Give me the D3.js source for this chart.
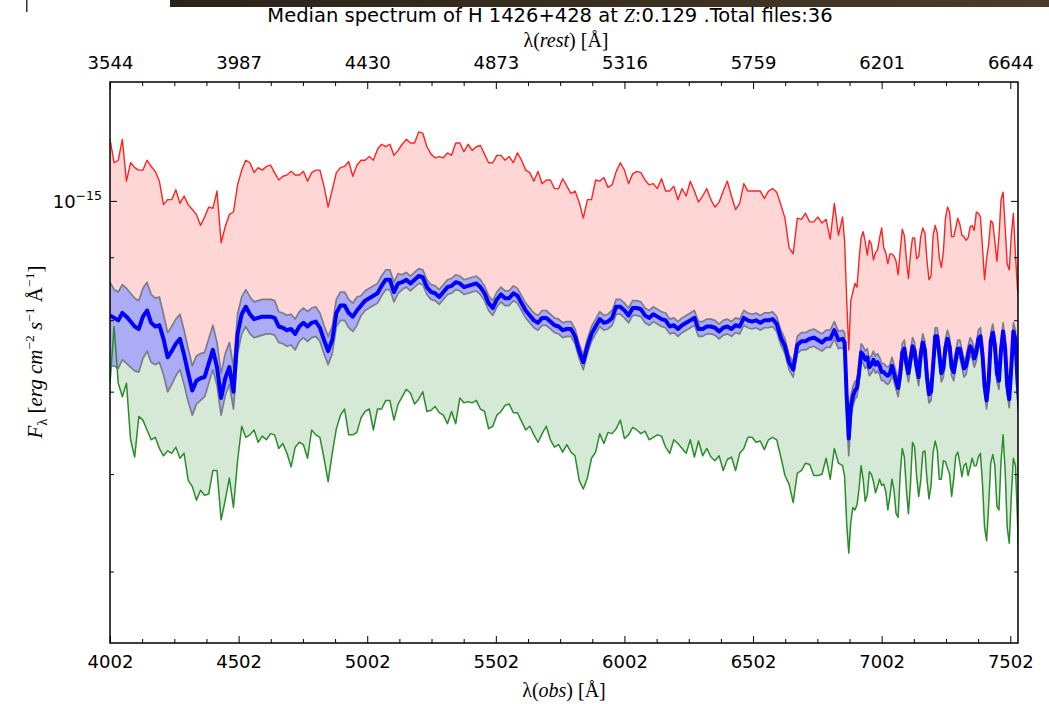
<!DOCTYPE html>
<html><head><meta charset="utf-8">
<script src="https://cdn.jsdelivr.net/npm/d3@7"></script>
<style>body{margin:0;background:#fff}svg{display:block}</style>
</head><body>
<svg id="chart" width="1049" height="704"></svg>
<script>
// ---------------- DATA ----------------
const redshift = 0.129;
const sourceName = "H 1426+428";
const totalFiles = 36;
// observed-frame wavelength grid (Angstrom): 16 A steps up to 6850, 8 A steps beyond
const gridCoarse = {start: 4002, stop: 6850, step: 16};
const gridFine = {start: 6858, stop: 7538, step: 8};
// bottom axis ticks (observed) and top axis labels (rest frame)
const obsTicks = [4002, 4502, 5002, 5502, 6002, 6502, 7002, 7502];
const restTickLabels = ["3544", "3987", "4430", "4873", "5316", "5759", "6201", "6644"];
const fluxMajorTicks = [1e-15];
const fluxMinorTicks = [5e-16, 6e-16, 7e-16, 8e-16, 9e-16];
// all flux series given as log10(F_lambda / 1e-15 erg cm^-2 s^-1 A^-1)
const maxLog = [
 0.050,0.031,0.033,0.050,0.016,0.031,0.027,0.025,0.025,0.033,
 0.028,0.024,0.016,-0.003,0.001,0.001,0.009,-0.002,0.004,-0.003,
 -0.007,-0.011,-0.020,-0.013,-0.005,-0.006,0.008,-0.034,-0.021,-0.011,
 -0.009,0.013,0.025,0.033,0.031,0.023,0.027,0.025,0.028,0.029,
 0.023,0.017,0.020,0.021,0.024,0.021,0.021,0.024,0.016,0.023,
 0.025,0.025,0.012,-0.005,0.009,0.023,0.027,0.028,0.032,0.020,
 0.029,0.033,0.033,0.036,0.033,0.042,0.046,0.044,0.046,0.037,
 0.041,0.046,0.050,0.047,0.047,0.056,0.055,0.044,0.038,0.035,
 0.036,0.035,0.039,0.037,0.047,0.047,0.040,0.046,0.041,0.044,
 0.045,0.038,0.031,0.031,0.037,0.037,0.033,0.036,0.031,0.039,
 0.033,0.025,0.023,0.016,0.024,0.014,0.017,0.017,0.010,0.010,
 0.018,0.012,0.006,0.008,-0.001,-0.014,0.001,0.001,0.017,0.016,
 0.019,0.011,0.013,0.024,0.031,0.025,0.014,0.022,0.024,0.023,
 0.017,0.013,0.014,0.010,0.018,0.008,0.008,0.012,0.001,0.010,
 0.004,0.016,0.008,-0.001,0.004,0.010,0.001,-0.005,-0.001,0.008,
 0.016,0.004,-0.007,-0.002,0.014,0.008,0.008,0.008,0.008,0.002,
 0.008,0.010,0.007,-0.003,-0.014,-0.038,-0.043,-0.014,-0.015,-0.010,
 -0.017,-0.017,-0.013,-0.018,-0.015,-0.031,-0.002,-0.028,-0.013,
 -0.033,-0.080,-0.121,-0.081,-0.074,-0.067,-0.070,-0.048,-0.030,-0.025,
 -0.033,-0.044,-0.032,-0.035,-0.048,-0.042,-0.040,-0.030,-0.022,-0.038,
 -0.042,-0.051,-0.043,-0.043,-0.045,-0.049,-0.060,-0.041,-0.023,-0.028,
 -0.047,-0.063,-0.043,-0.030,-0.030,-0.047,-0.045,-0.029,-0.022,-0.026,
 -0.048,-0.064,-0.061,-0.028,-0.020,-0.026,-0.046,-0.054,-0.041,-0.014,
 -0.005,-0.009,-0.029,-0.029,-0.022,-0.014,-0.019,-0.028,-0.029,-0.032,
 -0.030,-0.021,-0.020,-0.024,-0.009,-0.010,-0.013,-0.038,-0.064,-0.047,
 -0.035,-0.016,-0.018,-0.033,-0.049,-0.029,0.001,0.007,-0.021,-0.051,
 -0.056,-0.028,-0.010,-0.043,-0.072,-0.080
];
const medianLog = [
 -0.093,-0.095,-0.097,-0.091,-0.094,-0.098,-0.102,-0.104,-0.094,-0.089,
 -0.099,-0.102,-0.101,-0.112,-0.127,-0.122,-0.116,-0.112,-0.125,-0.140,
 -0.154,-0.146,-0.144,-0.143,-0.132,-0.121,-0.135,-0.160,-0.144,-0.135,
 -0.155,-0.108,-0.092,-0.086,-0.092,-0.096,-0.095,-0.094,-0.094,-0.094,
 -0.095,-0.102,-0.103,-0.105,-0.104,-0.108,-0.102,-0.099,-0.102,-0.099,
 -0.098,-0.103,-0.113,-0.122,-0.113,-0.091,-0.085,-0.085,-0.091,-0.094,
 -0.089,-0.085,-0.081,-0.079,-0.077,-0.075,-0.069,-0.064,-0.064,-0.074,
 -0.067,-0.066,-0.064,-0.067,-0.064,-0.061,-0.062,-0.070,-0.074,-0.075,
 -0.078,-0.074,-0.070,-0.069,-0.066,-0.067,-0.070,-0.069,-0.068,-0.067,
 -0.070,-0.075,-0.083,-0.087,-0.080,-0.076,-0.079,-0.079,-0.075,-0.077,
 -0.083,-0.089,-0.093,-0.097,-0.099,-0.095,-0.095,-0.098,-0.101,-0.102,
 -0.105,-0.104,-0.104,-0.110,-0.122,-0.131,-0.118,-0.108,-0.102,-0.096,
 -0.099,-0.098,-0.095,-0.086,-0.086,-0.089,-0.093,-0.087,-0.087,-0.088,
 -0.093,-0.095,-0.092,-0.094,-0.096,-0.097,-0.102,-0.101,-0.104,-0.101,
 -0.099,-0.097,-0.095,-0.104,-0.104,-0.102,-0.102,-0.103,-0.106,-0.103,
 -0.102,-0.104,-0.101,-0.102,-0.095,-0.097,-0.098,-0.097,-0.099,-0.097,
 -0.097,-0.096,-0.100,-0.111,-0.118,-0.131,-0.137,-0.117,-0.114,-0.114,
 -0.112,-0.111,-0.113,-0.115,-0.112,-0.112,-0.105,-0.113,-0.112,
 -0.115,-0.159,-0.193,-0.167,-0.159,-0.154,-0.152,-0.140,-0.123,-0.125,
 -0.129,-0.127,-0.135,-0.133,-0.129,-0.133,-0.131,-0.134,-0.139,-0.139,
 -0.141,-0.142,-0.140,-0.134,-0.140,-0.146,-0.152,-0.141,-0.123,-0.120,
 -0.132,-0.140,-0.129,-0.118,-0.122,-0.135,-0.143,-0.124,-0.115,-0.121,
 -0.143,-0.157,-0.155,-0.134,-0.110,-0.110,-0.124,-0.140,-0.136,-0.119,
 -0.112,-0.118,-0.135,-0.139,-0.129,-0.120,-0.120,-0.128,-0.136,-0.134,
 -0.125,-0.118,-0.121,-0.128,-0.123,-0.112,-0.110,-0.125,-0.150,-0.162,
 -0.146,-0.114,-0.107,-0.117,-0.140,-0.146,-0.121,-0.106,-0.120,-0.150,
 -0.161,-0.135,-0.106,-0.112,-0.146,-0.170
];
const minLog = [
 -0.148,-0.102,-0.148,-0.159,-0.148,-0.194,-0.208,-0.175,-0.178,-0.186,
 -0.194,-0.192,-0.201,-0.207,-0.203,-0.205,-0.200,-0.209,-0.205,-0.227,
 -0.232,-0.243,-0.235,-0.239,-0.238,-0.219,-0.219,-0.259,-0.243,-0.225,
 -0.249,-0.211,-0.183,-0.192,-0.190,-0.186,-0.196,-0.191,-0.194,-0.189,
 -0.190,-0.201,-0.197,-0.205,-0.216,-0.200,-0.196,-0.198,-0.209,-0.186,
 -0.190,-0.192,-0.209,-0.228,-0.205,-0.185,-0.174,-0.169,-0.190,-0.190,
 -0.188,-0.176,-0.171,-0.169,-0.186,-0.169,-0.169,-0.162,-0.162,-0.178,
 -0.165,-0.159,-0.153,-0.156,-0.165,-0.161,-0.155,-0.171,-0.170,-0.167,
 -0.172,-0.174,-0.181,-0.171,-0.181,-0.160,-0.164,-0.163,-0.164,-0.162,
 -0.169,-0.171,-0.185,-0.183,-0.174,-0.171,-0.166,-0.165,-0.172,-0.172,
 -0.179,-0.186,-0.183,-0.190,-0.196,-0.189,-0.183,-0.194,-0.200,-0.198,
 -0.204,-0.198,-0.204,-0.207,-0.227,-0.234,-0.225,-0.209,-0.204,-0.189,
 -0.197,-0.188,-0.189,-0.185,-0.178,-0.193,-0.190,-0.184,-0.186,-0.189,
 -0.187,-0.194,-0.192,-0.190,-0.191,-0.200,-0.205,-0.194,-0.197,-0.201,
 -0.205,-0.194,-0.208,-0.195,-0.207,-0.201,-0.208,-0.211,-0.207,-0.219,
 -0.210,-0.208,-0.219,-0.205,-0.201,-0.192,-0.192,-0.196,-0.195,-0.202,
 -0.194,-0.192,-0.194,-0.208,-0.223,-0.230,-0.245,-0.221,-0.219,-0.213,
 -0.214,-0.223,-0.223,-0.222,-0.209,-0.226,-0.201,-0.213,-0.215,
 -0.224,-0.262,-0.286,-0.261,-0.249,-0.251,-0.247,-0.234,-0.215,-0.226,
 -0.244,-0.239,-0.220,-0.222,-0.228,-0.237,-0.232,-0.226,-0.231,-0.230,
 -0.236,-0.251,-0.240,-0.226,-0.235,-0.254,-0.257,-0.222,-0.201,-0.208,
 -0.234,-0.254,-0.230,-0.196,-0.200,-0.224,-0.240,-0.227,-0.204,-0.203,
 -0.226,-0.242,-0.231,-0.204,-0.195,-0.202,-0.226,-0.226,-0.211,-0.212,
 -0.217,-0.222,-0.240,-0.226,-0.207,-0.204,-0.213,-0.224,-0.215,-0.213,
 -0.223,-0.216,-0.209,-0.215,-0.215,-0.208,-0.205,-0.230,-0.265,-0.276,
 -0.247,-0.213,-0.206,-0.215,-0.248,-0.251,-0.212,-0.190,-0.219,-0.265,
 -0.278,-0.240,-0.209,-0.215,-0.259,-0.322
];
// scatter of the files about the median (dex above / below)
const scatterHi = [
 0.027,0.023,0.023,0.023,0.023,0.023,0.023,0.023,0.023,0.023,
 0.023,0.023,0.023,0.020,0.020,0.020,0.020,0.020,0.020,0.020,
 0.020,0.020,0.020,0.020,0.020,0.020,0.020,0.020,0.020,0.020,
 0.020,0.016,0.014,0.014,0.014,0.014,0.014,0.014,0.014,0.014,
 0.014,0.012,0.012,0.012,0.012,0.012,0.012,0.012,0.012,0.012,
 0.012,0.012,0.012,0.012,0.011,0.011,0.011,0.011,0.011,0.011,
 0.011,0.008,0.008,0.008,0.008,0.008,0.008,0.008,0.008,0.008,
 0.008,0.006,0.006,0.006,0.006,0.006,0.006,0.006,0.006,0.006,
 0.006,0.006,0.006,0.006,0.006,0.006,0.006,0.006,0.006,0.006,
 0.006,0.006,0.006,0.006,0.006,0.006,0.006,0.006,0.006,0.006,
 0.006,0.006,0.006,0.006,0.006,0.006,0.006,0.006,0.006,0.006,
 0.006,0.006,0.006,0.006,0.006,0.006,0.006,0.006,0.006,0.006,
 0.006,0.006,0.006,0.006,0.006,0.006,0.006,0.006,0.006,0.006,
 0.006,0.006,0.006,0.006,0.006,0.006,0.006,0.006,0.006,0.006,
 0.006,0.006,0.006,0.006,0.006,0.006,0.006,0.006,0.006,0.006,
 0.006,0.006,0.006,0.006,0.006,0.006,0.006,0.006,0.006,0.006,
 0.006,0.006,0.006,0.006,0.006,0.006,0.006,0.007,0.007,0.007,
 0.007,0.007,0.007,0.007,0.007,0.007,0.007,0.007,0.007,
 0.008,0.011,0.012,0.009,0.008,0.007,0.007,0.007,0.007,0.007,
 0.007,0.007,0.007,0.007,0.007,0.007,0.007,0.007,0.007,0.007,
 0.007,0.007,0.007,0.007,0.007,0.007,0.007,0.007,0.007,0.007,
 0.007,0.007,0.007,0.007,0.007,0.007,0.007,0.007,0.007,0.007,
 0.007,0.007,0.007,0.007,0.007,0.007,0.007,0.007,0.007,0.007,
 0.007,0.007,0.007,0.007,0.007,0.007,0.007,0.007,0.007,0.007,
 0.007,0.007,0.007,0.007,0.007,0.007,0.007,0.007,0.007,0.007,
 0.007,0.007,0.007,0.007,0.007,0.007,0.007,0.007,0.007,0.007,
 0.007,0.007,0.007,0.007,0.007,0.007
];
const scatterLo = [
 0.041,0.039,0.039,0.038,0.038,0.037,0.036,0.035,0.034,0.033,
 0.032,0.031,0.030,0.029,0.028,0.027,0.026,0.025,0.024,0.023,
 0.020,0.019,0.018,0.016,0.016,0.016,0.015,0.014,0.014,0.014,
 0.014,0.016,0.016,0.016,0.016,0.015,0.015,0.015,0.014,0.014,
 0.014,0.013,0.013,0.013,0.013,0.013,0.012,0.012,0.012,0.012,
 0.012,0.011,0.011,0.011,0.011,0.011,0.012,0.012,0.012,0.012,
 0.012,0.008,0.008,0.008,0.008,0.008,0.008,0.008,0.008,0.008,
 0.008,0.006,0.006,0.006,0.006,0.006,0.006,0.006,0.006,0.006,
 0.006,0.006,0.006,0.006,0.006,0.006,0.006,0.006,0.006,0.006,
 0.006,0.006,0.006,0.006,0.006,0.006,0.006,0.006,0.006,0.006,
 0.006,0.006,0.006,0.006,0.006,0.006,0.006,0.006,0.006,0.006,
 0.006,0.006,0.006,0.006,0.006,0.006,0.006,0.006,0.006,0.006,
 0.006,0.006,0.006,0.006,0.006,0.006,0.006,0.006,0.006,0.006,
 0.006,0.006,0.006,0.006,0.006,0.006,0.006,0.006,0.006,0.006,
 0.006,0.006,0.006,0.006,0.006,0.006,0.006,0.006,0.006,0.006,
 0.006,0.006,0.006,0.006,0.006,0.006,0.006,0.006,0.006,0.006,
 0.006,0.006,0.006,0.006,0.006,0.006,0.006,0.007,0.007,0.007,
 0.007,0.007,0.007,0.007,0.007,0.007,0.007,0.007,0.007,
 0.008,0.012,0.014,0.010,0.008,0.007,0.007,0.007,0.007,0.007,
 0.007,0.007,0.007,0.007,0.007,0.007,0.007,0.007,0.007,0.007,
 0.007,0.007,0.007,0.007,0.007,0.007,0.007,0.007,0.007,0.007,
 0.007,0.007,0.007,0.007,0.007,0.007,0.007,0.007,0.007,0.007,
 0.007,0.007,0.007,0.007,0.007,0.007,0.007,0.007,0.007,0.007,
 0.007,0.007,0.007,0.007,0.007,0.007,0.007,0.007,0.007,0.007,
 0.007,0.007,0.007,0.007,0.007,0.007,0.007,0.007,0.007,0.007,
 0.007,0.007,0.007,0.007,0.007,0.007,0.007,0.007,0.007,0.007,
 0.007,0.007,0.007,0.007,0.007,0.007
];

// ---------------- CHART ----------------
const W = 1049, H = 704;
const plot = {left: 110, right: 1018, top: 82, bottom: 643};
const svg = d3.select("#chart");

// screenshot artefacts at the very top
const grad = svg.append("defs").append("linearGradient").attr("id", "bar");
grad.append("stop").attr("offset", "0%").attr("stop-color", "#2a2319");
grad.append("stop").attr("offset", "100%").attr("stop-color", "#4a3c28");
svg.append("rect").attr("x", 170).attr("y", 0).attr("width", W - 170).attr("height", 7).attr("fill", "url(#bar)");
svg.append("rect").attr("x", 26).attr("y", 0).attr("width", 1.5).attr("height", 12).attr("fill", "#333");

const x = d3.scaleLinear().domain([4002, 7532]).range([plot.left, plot.right]);
const y = d3.scaleLog().domain([4.375e-16, 1.249e-15]).range([plot.bottom, plot.top]);

const wavelengths = d3.range(gridCoarse.start, gridCoarse.stop + 1, gridCoarse.step)
  .concat(d3.range(gridFine.start, gridFine.stop + 1, gridFine.step));
const toFlux = v => 1e-15 * Math.pow(10, v);
const rows = medianLog.map((m, i) => ({
  lam: wavelengths[i],
  max: toFlux(maxLog[i]),
  med: toFlux(m),
  min: toFlux(minLog[i]),
  hi: toFlux(m + scatterHi[i]),
  lo: toFlux(m - scatterLo[i])
}));

svg.append("clipPath").attr("id", "clip").append("rect")
  .attr("x", plot.left).attr("y", plot.top)
  .attr("width", plot.right - plot.left).attr("height", plot.bottom - plot.top);
const g = svg.append("g").attr("clip-path", "url(#clip)");

const area = (a, b) => d3.area().x(d => x(d.lam)).y0(d => y(d[a])).y1(d => y(d[b]));
const line = k => d3.line().x(d => x(d.lam)).y(d => y(d[k]));

g.append("path").datum(rows).attr("d", area("hi", "max")).attr("fill", "#ffd6d6");
g.append("path").datum(rows).attr("d", area("min", "lo")).attr("fill", "#d6e9d6");
g.append("path").datum(rows).attr("d", area("lo", "hi")).attr("fill", "#acacf6");
["hi", "lo"].forEach(k => g.append("path").datum(rows).attr("d", line(k))
  .attr("fill", "none").attr("stroke", "#7c7c8c").attr("stroke-width", 1.7).attr("stroke-linejoin", "round"));
g.append("path").datum(rows).attr("d", line("max")).attr("fill", "none")
  .attr("stroke", "#f22").attr("stroke-width", 1.4).attr("stroke-linejoin", "round");
g.append("path").datum(rows).attr("d", line("min")).attr("fill", "none")
  .attr("stroke", "#2a8c2a").attr("stroke-width", 1.5).attr("stroke-linejoin", "round");
g.append("path").datum(rows).attr("d", line("med")).attr("fill", "none")
  .attr("stroke", "#0000ff").attr("stroke-width", 4).attr("stroke-linejoin", "round");

// axes
const minorObs = d3.range(4002, 7532, 125).filter(v => !obsTicks.includes(v));
const fontTick = "'DejaVu Sans', sans-serif";
function styleAxis(sel) {
  sel.select(".domain").remove();
  sel.selectAll("line").attr("stroke", "#000").attr("stroke-width", 1);
  sel.selectAll("text").attr("font-family", fontTick).attr("font-size", 18).attr("fill", "#000");
}
svg.append("g").attr("transform", `translate(0,${plot.bottom})`)
  .call(d3.axisBottom(x).tickValues(obsTicks).tickSize(-7).tickPadding(12).tickFormat(d => String(d))).call(styleAxis);
svg.append("g").attr("transform", `translate(0,${plot.bottom})`)
  .call(d3.axisBottom(x).tickValues(minorObs).tickSize(-4).tickFormat("")).call(styleAxis);
svg.append("g").attr("transform", `translate(0,${plot.top})`)
  .call(d3.axisTop(x).tickValues(obsTicks).tickSize(-7).tickPadding(13).tickFormat((d, i) => restTickLabels[i])).call(styleAxis);
svg.append("g").attr("transform", `translate(0,${plot.top})`)
  .call(d3.axisTop(x).tickValues(minorObs).tickSize(-4).tickFormat("")).call(styleAxis);
svg.append("g").attr("transform", `translate(${plot.left},0)`)
  .call(d3.axisLeft(y).tickValues(fluxMajorTicks).tickSize(-7).tickFormat("")).call(styleAxis);
svg.append("g").attr("transform", `translate(${plot.left},0)`)
  .call(d3.axisLeft(y).tickValues(fluxMinorTicks).tickSize(-4).tickFormat("")).call(styleAxis);
svg.append("g").attr("transform", `translate(${plot.right},0)`)
  .call(d3.axisRight(y).tickValues(fluxMajorTicks).tickSize(-7).tickFormat("")).call(styleAxis);
svg.append("g").attr("transform", `translate(${plot.right},0)`)
  .call(d3.axisRight(y).tickValues(fluxMinorTicks).tickSize(-4).tickFormat("")).call(styleAxis);

// y major tick label 10^-15
fluxMajorTicks.forEach(t => {
  const exp = Math.round(Math.log10(t));
  const tx = svg.append("text").attr("x", 102).attr("y", y(t) + 7)
    .attr("text-anchor", "end").attr("font-family", fontTick).attr("font-size", 18);
  tx.append("tspan").text("10");
  tx.append("tspan").attr("dy", -8).attr("font-size", 12.5).text("\u2212" + Math.abs(exp));
});

// frame
svg.append("rect").attr("x", plot.left).attr("y", plot.top)
  .attr("width", plot.right - plot.left).attr("height", plot.bottom - plot.top)
  .attr("fill", "none").attr("stroke", "#000").attr("stroke-width", 1.5);

// titles
const serif = "'Liberation Serif', 'DejaVu Serif', serif";
const title = svg.append("text").attr("x", 550).attr("y", 22).attr("text-anchor", "middle")
  .attr("font-family", fontTick).attr("font-size", 19.5);
title.append("tspan").text(`Median spectrum of ${sourceName} at `);
title.append("tspan").attr("font-family", serif).attr("font-style", "italic").text("Z");
title.append("tspan").text(`:${redshift} .Total files:${totalFiles}`);

function lamLabel(xp, yp, word) {
  const t = svg.append("text").attr("x", xp).attr("y", yp).attr("text-anchor", "middle")
    .attr("font-family", serif).attr("font-size", 20);
  t.append("tspan").text("\u03bb(");
  t.append("tspan").attr("font-style", "italic").text(word);
  t.append("tspan").text(") [\u00c5]");
}
lamLabel(566, 47, "rest");
lamLabel(564, 697, "obs");

// y label
const yl = svg.append("text").attr("transform", "translate(42,352) rotate(-90)")
  .attr("text-anchor", "middle").attr("font-family", serif).attr("font-size", 21);
yl.append("tspan").attr("font-style", "italic").text("F");
yl.append("tspan").attr("font-size", 14).attr("dy", 5).text("\u03bb");
yl.append("tspan").attr("dy", -5).text(" [");
yl.append("tspan").attr("font-style", "italic").text("erg cm");
yl.append("tspan").attr("font-size", 13.5).attr("dy", -8).text("\u22122");
yl.append("tspan").attr("dy", 8).attr("font-style", "italic").text(" s");
yl.append("tspan").attr("font-size", 13.5).attr("dy", -8).text("\u22121");
yl.append("tspan").attr("dy", 8).text(" \u00c5");
yl.append("tspan").attr("font-size", 13.5).attr("dy", -8).text("\u22121");
yl.append("tspan").attr("dy", 8).text("]");
</script>
</body></html>
